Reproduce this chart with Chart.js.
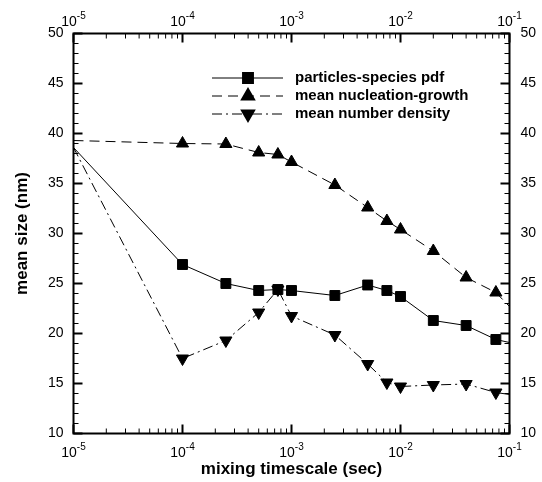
<!DOCTYPE html>
<html>
<head>
<meta charset="utf-8">
<script src="https://cdn.jsdelivr.net/npm/chart.js@4.4.0/dist/chart.umd.min.js"></script>
<style>
  html, body { margin: 0; padding: 0; background: #fff; }
  canvas { display: block; }
</style>
</head>
<body>
<canvas id="c" width="542" height="482"></canvas>
<script>
// ---- data ----
const timescales = [1e-5, 1e-4, 2.5e-4, 5e-4, 7.5e-4, 1e-3, 2.5e-3, 5e-3, 7.5e-3, 1e-2, 2e-2, 4e-2, 7.5e-2, 1e-1];
const pdfSize = [38.6, 26.9, 25.0, 24.3, 24.4, 24.3, 23.8, 24.85, 24.3, 23.7, 21.3, 20.8, 19.4, 19.1];
const nucGrowthSize = [39.3, 39.0, 38.95, 38.1, 37.9, 37.15, 34.85, 32.6, 31.25, 30.4, 28.25, 25.6, 24.1, 22.7];
const numDensitySize = [38.6, 17.5, 19.3, 22.1, 24.4, 21.75, 19.85, 16.95, 15.1, 14.7, 14.85, 14.95, 14.1, 13.9];
const seriesNames = ['particles-species pdf', 'mean nucleation-growth', 'mean number density'];
const xTickExponents = [-5, -4, -3, -2, -1];
const yTickValues = [10, 15, 20, 25, 30, 35, 40, 45, 50];
const xTitle = 'mixing timescale (sec)';
const yTitle = 'mean size (nm)';

const FONT = '"Liberation Sans", Arial, sans-serif';
const lastIdx = timescales.length - 1;
const toXY = arr => timescales.map((t, i) => ({ x: t, y: arr[i] }));
const radiusFn = ctx => (ctx.dataIndex === 0 || ctx.dataIndex === lastIdx) ? 0 : 7;

const styles = [
  { dash: [], pointStyle: 'rect', rotation: 0 },
  { dash: [10, 6], pointStyle: 'triangle', rotation: 0 },
  { dash: [10, 4, 2, 4], pointStyle: 'triangle', rotation: 180 }
];

const seriesData = [pdfSize, nucGrowthSize, numDensitySize];

const datasets = seriesData.map((arr, i) => ({
  label: seriesNames[i],
  data: toXY(arr),
  borderColor: '#000',
  backgroundColor: '#000',
  borderWidth: 1,
  borderDash: styles[i].dash,
  pointStyle: styles[i].pointStyle,
  pointRotation: styles[i].rotation,
  pointRadius: radiusFn,
  pointHoverRadius: radiusFn,
  pointBackgroundColor: '#000',
  pointBorderColor: '#000',
  pointBorderWidth: 1,
  tension: 0,
  xAxisID: 'x',
  yAxisID: 'y'
}));

function drawMarker(ctx, style, x, y) {
  Chart.helpers.drawPoint(ctx, { pointStyle: style.pointStyle, rotation: style.rotation, radius: 7, borderWidth: 1 }, x, y);
}

const framePlugin = {
  id: 'frame',
  afterDraw(chart) {
    const ctx = chart.ctx;
    const a = chart.chartArea;
    const xs = chart.scales.x;
    const ys = chart.scales.y;
    ctx.save();
    ctx.strokeStyle = '#000';
    ctx.fillStyle = '#000';

    // y ticks (left and right, inward)
    for (let v = 10; v <= 50; v++) {
      const py = ys.getPixelForValue(v);
      const major = v % 5 === 0;
      const len = major ? 9 : 5;
      ctx.lineWidth = major ? 2 : 1;
      ctx.beginPath();
      ctx.moveTo(a.left, py); ctx.lineTo(a.left + len, py);
      ctx.moveTo(a.right, py); ctx.lineTo(a.right - len, py);
      ctx.stroke();
    }
    // x ticks (top and bottom, inward)
    for (let e = -5; e <= -1; e++) {
      const kmax = e === -1 ? 1 : 9;
      for (let k = 1; k <= kmax; k++) {
        const px = xs.getPixelForValue(k * Math.pow(10, e));
        const major = k === 1;
        const len = major ? 9 : 5;
        ctx.lineWidth = major ? 2 : 1;
        ctx.beginPath();
        ctx.moveTo(px, a.top); ctx.lineTo(px, a.top + len);
        ctx.moveTo(px, a.bottom); ctx.lineTo(px, a.bottom - len);
        ctx.stroke();
      }
    }
    // frame
    ctx.lineWidth = 2;
    ctx.strokeRect(a.left, a.top, a.right - a.left, a.bottom - a.top);

    // x tick labels with superscript exponents
    ctx.textBaseline = 'alphabetic';
    ctx.textAlign = 'left';
    xTickExponents.forEach(e => {
      const px = xs.getPixelForValue(Math.pow(10, e));
      const base = '10', sup = String(e);
      ctx.font = '14px ' + FONT;
      const wb = ctx.measureText(base).width;
      ctx.font = '10px ' + FONT;
      const ws = ctx.measureText(sup).width;
      const x0 = px - (wb + ws) / 2;
      // bottom
      ctx.font = '14px ' + FONT;
      ctx.fillText(base, x0, a.bottom + 23);
      ctx.font = '10px ' + FONT;
      ctx.fillText(sup, x0 + wb, a.bottom + 16);
      // top
      ctx.font = '14px ' + FONT;
      ctx.fillText(base, x0, a.top - 8);
      ctx.font = '10px ' + FONT;
      ctx.fillText(sup, x0 + wb, a.top - 15);
    });

    // legend
    const rowsY = [78, 96, 114];
    const lx0 = 212, lx1 = 283, lmx = 248, tx = 295;
    seriesNames.forEach((name, i) => {
      const yy = rowsY[i];
      ctx.save();
      ctx.lineWidth = 1;
      ctx.setLineDash(styles[i].dash);
      ctx.beginPath();
      ctx.moveTo(lx0, yy); ctx.lineTo(lx1, yy);
      ctx.stroke();
      ctx.restore();
      drawMarker(ctx, styles[i], lmx, yy);
      ctx.font = 'bold 15px ' + FONT;
      ctx.textAlign = 'left';
      ctx.textBaseline = 'middle';
      ctx.fillStyle = '#000';
      ctx.fillText(name, tx, yy);
    });
    ctx.restore();
  }
};

new Chart(document.getElementById('c'), {
  type: 'line',
  data: { datasets },
  options: {
    responsive: false,
    animation: false,
    devicePixelRatio: 1,
    layout: { padding: 0 },
    plugins: { legend: { display: false }, tooltip: { enabled: false } },
    scales: {
      x: {
        type: 'logarithmic', position: 'bottom', min: 1e-5, max: 1e-1,
        grid: { display: false, drawTicks: false },
        border: { display: false },
        ticks: { display: false },
        title: { display: true, text: xTitle, color: '#000', font: { family: FONT, size: 17, weight: 'bold' }, padding: { top: 0, bottom: 2 } },
        afterFit(s) { s.height = 48.5; }
      },
      x2: {
        type: 'logarithmic', position: 'top', min: 1e-5, max: 1e-1,
        grid: { display: false, drawTicks: false },
        border: { display: false },
        ticks: { display: false },
        afterFit(s) { s.height = 33.5; }
      },
      y: {
        type: 'linear', position: 'left', min: 10, max: 50,
        afterBuildTicks(s) { s.ticks = yTickValues.map(v => ({ value: v })); },
        grid: { display: false, drawTicks: false },
        border: { display: false },
        ticks: { color: '#000', padding: 10, font: { family: FONT, size: 14 } },
        title: { display: true, text: yTitle, color: '#000', font: { family: FONT, size: 17, weight: 'bold' }, padding: { top: 12, bottom: 0 } },
        afterFit(s) { s.width = 73.5; }
      },
      y2: {
        type: 'linear', position: 'right', min: 10, max: 50,
        afterBuildTicks(s) { s.ticks = yTickValues.map(v => ({ value: v })); },
        grid: { display: false, drawTicks: false },
        border: { display: false },
        ticks: { color: '#000', padding: 11, font: { family: FONT, size: 14 } },
        afterFit(s) { s.width = 32.5; }
      }
    }
  },
  plugins: [framePlugin]
});
</script>
</body>
</html>
